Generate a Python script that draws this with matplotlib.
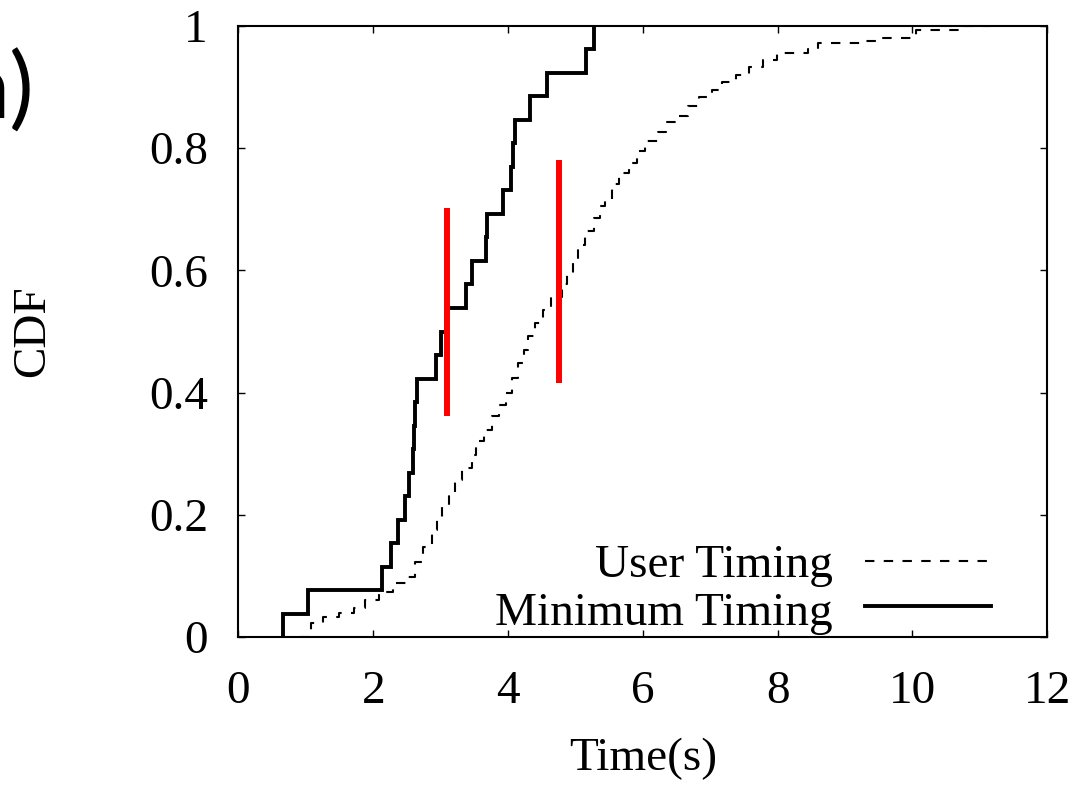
import numpy as np
import matplotlib
matplotlib.use("Agg")
import matplotlib.pyplot as plt

# Minimum Timing: 26 samples, time where each step happens and CDF level after it
min_time = [0.66, 1.03, 2.13, 2.27, 2.37, 2.47, 2.53, 2.59, 2.61, 2.62, 2.65, 2.93, 3.01,
            3.08, 3.37, 3.47, 3.68, 3.69, 3.92, 4.05, 4.07, 4.10, 4.32, 4.58, 5.16, 5.28]
min_cdf = [0.038, 0.077, 0.115, 0.154, 0.192, 0.231, 0.269, 0.308, 0.346, 0.385, 0.423, 0.462, 0.500,
           0.538, 0.577, 0.615, 0.654, 0.692, 0.731, 0.769, 0.808, 0.846, 0.885, 0.923, 0.962, 1.0]

# User Timing (step position, level after step)
user_time = [0.92, 1.07, 1.25, 1.49, 1.72, 1.88, 2.08, 2.29, 2.50, 2.62, 2.74, 2.87, 2.94,
             3.02, 3.12, 3.21, 3.31, 3.46, 3.53, 3.64, 3.76, 3.86, 3.97, 4.06, 4.15, 4.23,
             4.29, 4.40, 4.52, 4.64, 4.80, 4.88, 4.96, 5.04, 5.14, 5.27, 5.36, 5.44, 5.54,
             5.64, 5.79, 5.91, 6.03, 6.23, 6.35, 6.50, 6.67, 6.84, 7.02, 7.18, 7.39, 7.57,
             7.78, 7.99, 8.45, 8.60, 9.22, 9.52, 10.04, 10.06, 10.73, 11.15]
user_cdf = [0.0, 0.023, 0.033, 0.040, 0.048, 0.060, 0.074, 0.088, 0.099, 0.123, 0.148, 0.175, 0.195,
            0.216, 0.236, 0.257, 0.277, 0.298, 0.320, 0.339, 0.361, 0.380, 0.400, 0.424, 0.449, 0.470,
            0.492, 0.514, 0.536, 0.556, 0.577, 0.596, 0.618, 0.641, 0.664, 0.686, 0.705, 0.717, 0.741,
            0.759, 0.776, 0.796, 0.812, 0.826, 0.843, 0.853, 0.869, 0.883, 0.896, 0.909, 0.920, 0.933,
            0.944, 0.955, 0.962, 0.972, 0.976, 0.980, 0.984, 0.994, 1.0, 1.0]

# red markers drawn over the plot
red_x = [3.09, 4.75]
red_lo = [0.362, 0.415]
red_hi = [0.702, 0.781]

x_ticks = [0, 2, 4, 6, 8, 10, 12]
y_ticks = [0, 0.2, 0.4, 0.6, 0.8, 1]
y_tick_labels = ["0", "0.2", "0.4", "0.6", "0.8", "1"]

serif = "Liberation Serif"
fs = 34

fig = plt.figure(figsize=(10.84, 7.88), dpi=100)
ax = fig.add_axes([0.220, 0.1916, 0.746, 0.7754])

# curves
ax.step(np.r_[min_time[0], min_time], np.r_[0, min_cdf], where="post",
        color="black", lw=2.8, solid_joinstyle="miter")
ax.step(user_time, user_cdf, where="post", color="black", lw=1.5,
        dashes=(4.5, 4.5))

ax.vlines(red_x, red_lo, red_hi, color="#ff0000", lw=4.3)

ax.set_xlim(0, 12)
ax.set_ylim(0, 1)
ax.set_xticks(x_ticks)
ax.set_xticklabels([str(t) for t in x_ticks], family=serif, fontsize=fs)
ax.set_yticks(y_ticks)
ax.set_yticklabels(y_tick_labels, family=serif, fontsize=fs)
ax.tick_params(direction="in", length=5, width=1, top=True, right=True)
ax.tick_params(axis="x", pad=24)
ax.tick_params(axis="y", pad=22)
for s in ax.spines.values():
    s.set_linewidth(1.5)

ax.set_xlabel("Time(s)", family=serif, fontsize=fs, labelpad=18)
ax.set_ylabel("CDF", family=serif, fontsize=fs)
ax.yaxis.set_label_coords(-0.228, 0.50)

# gnuplot style key: text right aligned, sample line on the right
ax.text(0.735, 0.098, "User Timing", transform=ax.transAxes, ha="right",
        va="baseline", family=serif, fontsize=fs)
ax.text(0.735, 0.020, "Minimum Timing", transform=ax.transAxes, ha="right",
        va="baseline", family=serif, fontsize=fs)
ax.plot([0.775, 0.931], [0.124, 0.124], transform=ax.transAxes, color="black",
        lw=1.5, dashes=(4.5, 4.5))
ax.plot([0.775, 0.931], [0.051, 0.051], transform=ax.transAxes, color="black",
        lw=2.8)

# leftover of a cut-off caption (cut at the left edge in the original too)
fig.text(34 / 1084, 1 - 92 / 788, "n)", ha="right", va="center",
         family="Lato", fontsize=66)

fig.savefig("out.png", dpi=100)
